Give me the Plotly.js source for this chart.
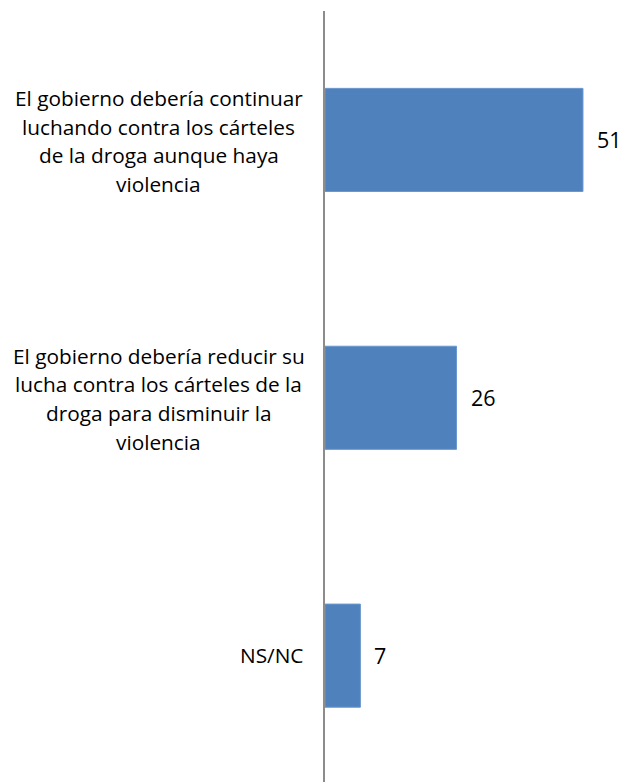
<!DOCTYPE html>
<html>
<head>
<meta charset="utf-8">
<script src="https://cdn.plot.ly/plotly-3.0.1.min.js"></script>
<style>html,body{margin:0;padding:0;background:#fff;overflow:hidden;}#chart{width:629px;height:782px;}</style>
</head>
<body>
<div id="chart"></div>
<script>
const categories = ["c1", "c2", "c3"];
const categoryLabels = [
  ["El gobierno debería continuar", "luchando contra los cárteles", "de la droga aunque haya", "violencia"],
  ["El gobierno debería reducir su", "lucha contra los cárteles de la", "droga para disminuir la", "violencia"],
  ["NS/NC"]
];
const values = [51, 26, 7];

const font = "'Open Sans', sans-serif";
const annotations = [];
const plotW = 629 - 325;
categoryLabels.forEach((lines, i) => {
  const lh = 28.8;
  const n = lines.length;
  lines.forEach((line, j) => {
    const single = n === 1;
    annotations.push({
      xref: 'paper', yref: 'y',
      x: single ? -(325 - 305) / plotW : -(325 - 158.5) / plotW,
      y: categories[i],
      xanchor: single ? 'right' : 'center', yanchor: 'middle',
      text: line, showarrow: false, align: 'center',
      yshift: ((n - 1) / 2 - j) * lh + (single ? 1 : -1),
      font: {family: font, size: 20.8, color: '#000'}
    });
  });
});
values.forEach((v, i) => {
  annotations.push({
    xref: 'x', yref: 'y', x: v, y: categories[i],
    xanchor: 'left', yanchor: 'middle', xshift: 12,
    text: String(v), showarrow: false,
    font: {family: font, size: 21.5, color: '#000'}
  });
});

const data = [{
  type: 'bar', orientation: 'h',
  x: values, y: categories,
  marker: {color: '#4F81BD', line: {color: '#6b98cf', width: 1}},
  hoverinfo: 'none'
}];

const layout = {
  width: 629, height: 782,
  margin: {l: 325, r: 0, t: 11, b: 0},
  paper_bgcolor: '#fff', plot_bgcolor: '#fff',
  bargap: 0.6,
  showlegend: false,
  xaxis: {range: [0, 60.1], showgrid: false, zeroline: false, showticklabels: false, showline: false, ticks: ''},
  yaxis: {type: 'category', range: [2.49, -0.5], showgrid: false, zeroline: false, showticklabels: false,
          showline: true, linecolor: '#8c8c8c', linewidth: 2, ticks: ''},
  annotations: annotations
};

Plotly.newPlot('chart', data, layout, {displayModeBar: false, staticPlot: true});
</script>
</body>
</html>
